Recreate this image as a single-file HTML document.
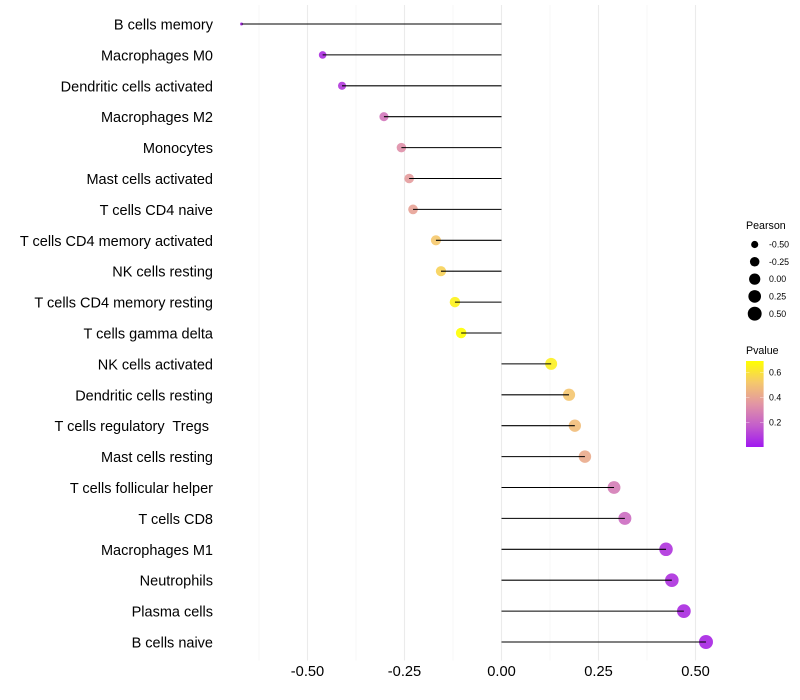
<!DOCTYPE html>
<html lang="en">
<head>
<meta charset="utf-8">
<title>Pearson lollipop chart</title>
<style>
html,body{margin:0;padding:0;background:#fff;}
svg{display:block;}
text{font-family:"Liberation Sans",Arial,sans-serif;fill:#000;white-space:pre;}
.ytick{font-size:14.5px;}
.xtick{font-size:14.67px;}
.ltitle{font-size:10.67px;}
.llabel{font-size:8.8px;}
</style>
</head>
<body>
<svg id="chart" width="800" height="700" viewBox="0 0 800 700" xmlns="http://www.w3.org/2000/svg">
<defs>
<linearGradient id="pgrad" x1="0" y1="1" x2="0" y2="0">
<stop offset="0" stop-color="#a018f0"/>
<stop offset="0.25" stop-color="#c45ecb"/>
<stop offset="0.5" stop-color="#e295a4"/>
<stop offset="0.75" stop-color="#f5c86c"/>
<stop offset="1" stop-color="#ffff00"/>
</linearGradient>
</defs>
<g id="grid"></g>
<g id="marks"></g>
<g id="ylabels"></g>
<g id="xlabels"></g>
<g id="size-legend">
<text class="ltitle" x="746" y="229">Pearson</text>
</g>
<g id="color-legend">
<text class="ltitle" x="746" y="354">Pvalue</text>
<rect x="746" y="361" width="17.6" height="86" fill="url(#pgrad)"/>
</g>
</svg>
<script>
const categories = ["B cells memory","Macrophages M0","Dendritic cells activated","Macrophages M2","Monocytes","Mast cells activated","T cells CD4 naive","T cells CD4 memory activated","NK cells resting","T cells CD4 memory resting","T cells gamma delta","NK cells activated","Dendritic cells resting","T cells regulatory  Tregs ","Mast cells resting","T cells follicular helper","T cells CD8","Macrophages M1","Neutrophils","Plasma cells","B cells naive"];
const pearson = [-0.67,-0.461,-0.411,-0.303,-0.258,-0.238,-0.228,-0.169,-0.156,-0.12,-0.104,0.128,0.174,0.189,0.215,0.29,0.318,0.424,0.439,0.47,0.527];
const pvalue = [0.005,0.04,0.07,0.25,0.33,0.37,0.39,0.52,0.55,0.65,0.69,0.64,0.51,0.48,0.42,0.27,0.22,0.06,0.05,0.035,0.015];
const xTicks = [-0.5,-0.25,0,0.25,0.5];
const xMinorTicks = [-0.625,-0.375,-0.125,0.125,0.375];
const sizeBreaks = [-0.5,-0.25,0,0.25,0.5];
const pvalueBreaks = [0.2,0.4,0.6];

const SVGNS = "http://www.w3.org/2000/svg";
const pearsonMin = Math.min(...pearson), pearsonMax = Math.max(...pearson);
const pDomain = [0.005, 0.69];
const colorStops = ["#a51fe5","#c45ecb","#e295a4","#f5c86c","#ffff00"];

function xScale(v){ return 501.5 + v * 388; }
function yScale(i){ return 24 + i * 30.9; }
function rScale(v){
  const t = Math.max(0,(v - pearsonMin) / (pearsonMax - pearsonMin));
  return 0.4 + 1.1 * (1 + 5 * Math.sqrt(t));
}
function pScaleY(p){ return 447 - (p - pDomain[0]) / (pDomain[1] - pDomain[0]) * 86; }
function hexToRgb(h){ return [1,3,5].map(k => parseInt(h.substr(k,2),16)); }
function colorScale(p){
  let t = (p - pDomain[0]) / (pDomain[1] - pDomain[0]);
  t = Math.min(1, Math.max(0, t)) * (colorStops.length - 1);
  const k = Math.min(colorStops.length - 2, Math.floor(t));
  const a = hexToRgb(colorStops[k]), b = hexToRgb(colorStops[k + 1]);
  const c = a.map((av, n) => Math.round(av + (b[n] - av) * (t - k)));
  return "rgb(" + c.join(",") + ")";
}
function make(tag, attrs, parent){
  const el = document.createElementNS(SVGNS, tag);
  Object.keys(attrs).forEach(k => el.setAttribute(k, attrs[k]));
  parent.appendChild(el);
  return el;
}
function fmt(v){ return v.toFixed(2); }

const gridG = document.getElementById("grid");
const marksG = document.getElementById("marks");
const yG = document.getElementById("ylabels");
const xG = document.getElementById("xlabels");
const sizeG = document.getElementById("size-legend");
const colorG = document.getElementById("color-legend");

xMinorTicks.forEach(v => {
  const g = make("line", {x1:xScale(v), x2:xScale(v), y1:5, y2:660.5, stroke:"#f0f0f0", "stroke-width":0.55}, gridG);
  
  
});
xTicks.forEach(v => {
  const g = make("line", {x1:xScale(v), x2:xScale(v), y1:5, y2:660.5, stroke:"#ebebeb", "stroke-width":1.07}, gridG);
  
  
  const t = make("text", {class:"xtick", x:xScale(v), y:676, "text-anchor":"middle"}, xG);
  t.textContent = fmt(v);
  
  
});

categories.forEach((name, i) => {
  const y = yScale(i);
  const dot = make("circle", {cx:xScale(pearson[i]), cy:y, r:rScale(pearson[i]), fill:colorScale(pvalue[i]), "fill-opacity":0.9}, marksG);
  
  
  const seg = make("line", {x1:xScale(0), x2:xScale(pearson[i]), y1:y, y2:y, stroke:"#000", "stroke-width":1.07}, marksG);
  
  
  const lab = make("text", {class:"ytick", x:213, y:y + 5.5, "text-anchor":"end"}, yG);
  lab.textContent = name;
  
  
});

sizeBreaks.forEach((v, i) => {
  const y = 244.5 + i * 17.3;
  const c = make("circle", {cx:754.7, cy:y, r:rScale(v), fill:"#000"}, sizeG);
  
  
  const t = make("text", {class:"llabel", x:769, y:y + 3.1}, sizeG);
  t.textContent = fmt(v);
  
  
});

pvalueBreaks.forEach(p => {
  const y = pScaleY(p);
  const a = make("line", {x1:746, x2:749.5, y1:y, y2:y, stroke:"#fff", "stroke-opacity":0.6, "stroke-width":0.6}, colorG);
  
  
  const b = make("line", {x1:760, x2:763.6, y1:y, y2:y, stroke:"#fff", "stroke-opacity":0.6, "stroke-width":0.6}, colorG);
  
  
  const t = make("text", {class:"llabel", x:769, y:y + 3.1}, colorG);
  t.textContent = p.toFixed(1);
  
  
});
</script>
</body>
</html>
